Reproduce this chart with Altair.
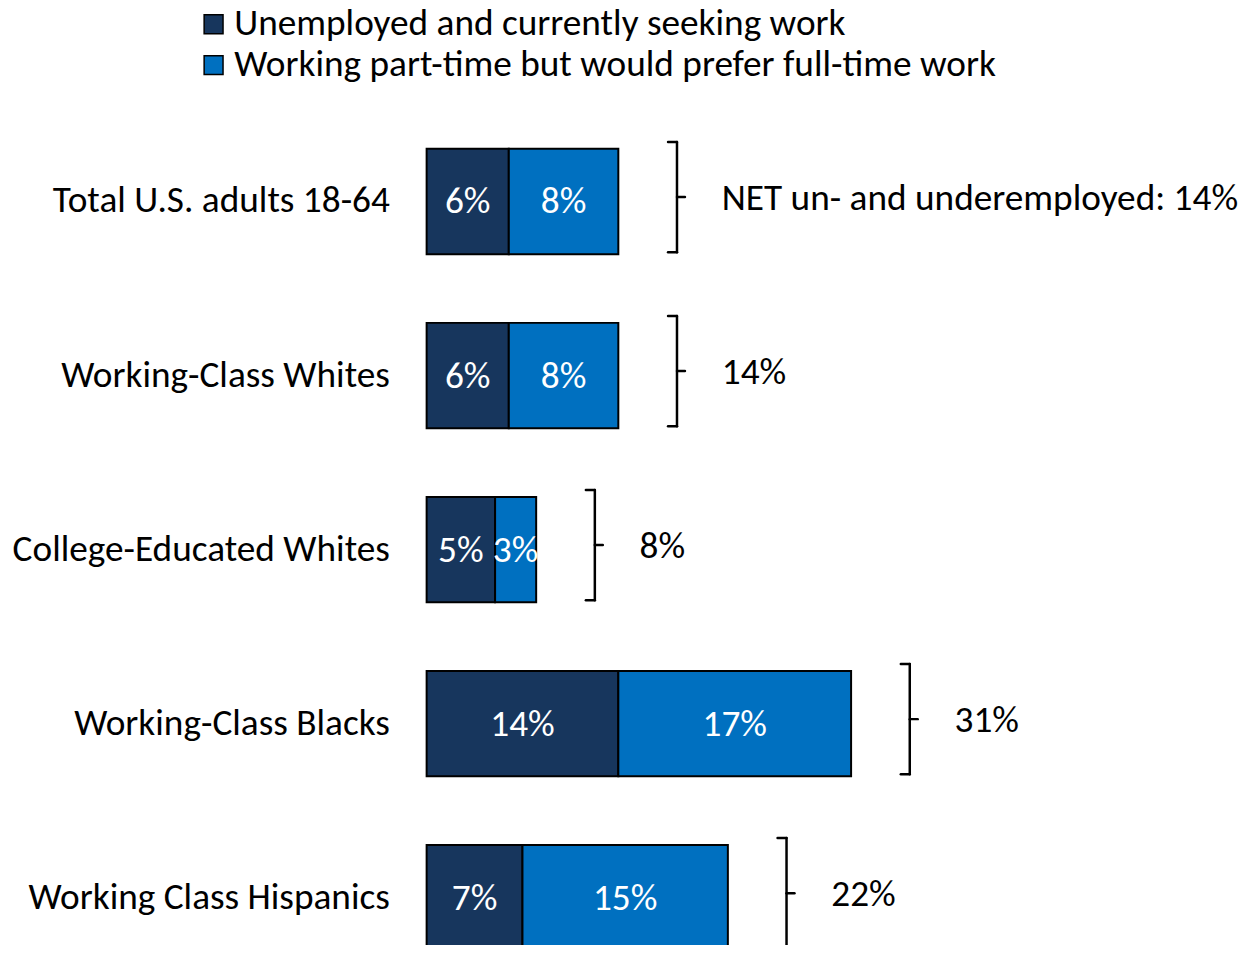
import altair as alt
import pandas as pd

# ---------------- data ----------------
groups = [
    "Total U.S. adults 18-64",
    "Working-Class Whites",
    "College-Educated Whites",
    "Working-Class Blacks",
    "Working Class Hispanics",
]
unemployed = [6, 6, 5, 14, 7]
parttime = [8, 8, 3, 17, 15]
net_totals = [14, 14, 8, 31, 22]
net_labels = ["NET un- and underemployed: 14%", "14%", "8%", "31%", "22%"]
series_names = [
    "Unemployed and currently seeking work",
    "Working part-time but would prefer full-time work",
]
colors = ["#17365D", "#0070C0"]

rows = []
for i, g in enumerate(groups):
    u, p = unemployed[i], parttime[i]
    rows.append(dict(group=g, row=i, series=series_names[0], start=0, end=u, label=f"{u}%"))
    rows.append(dict(group=g, row=i, series=series_names[1], start=u, end=u + p, label=f"{p}%"))
seg = pd.DataFrame(rows)
net = pd.DataFrame(dict(group=groups, row=list(range(len(groups))), total=net_totals,
                        label=net_labels, zero=[0] * len(groups)))

# ---------------- layout ----------------
FONT = "Carlito, Calibri, Lato"
FS = 37.5
W, H = 812, 937
PX_PER_PCT = 13.77
ROW_STEP, FIRST = 175, 192
HALF_BAR = 53
GAP = 59          # px from bar end to bracket
LABEL_GAP = 45    # px from bracket to net label

x_scale = alt.Scale(domain=[0, W / PX_PER_PCT], nice=False, zero=False)
y_scale = alt.Scale(domain=[-FIRST / ROW_STEP, (H - FIRST) / ROW_STEP],
                    reverse=True, nice=False, zero=False)


def X(f):
    return alt.X(f, scale=x_scale, axis=None)


def Y(f):
    return alt.Y(f, scale=y_scale, axis=None)


bars = alt.Chart(seg).mark_rect(
    yOffset=-HALF_BAR, y2Offset=HALF_BAR, stroke="black", strokeWidth=2
).encode(
    x=X("start:Q"),
    x2="end:Q",
    y=Y("row:Q"),
    y2="row:Q",
    color=alt.Color(
        "series:N",
        scale=alt.Scale(domain=series_names, range=colors),
        legend=alt.Legend(
            orient="none", legendX=-233, legendY=-5, title=None,
            symbolType="square", symbolSize=361, symbolStrokeColor="black",
            symbolStrokeWidth=1.5, symbolOpacity=1,
            labelFont=FONT, labelFontSize=FS, labelColor="black",
            labelOffset=2, labelLimit=1000, rowPadding=2, padding=0,
        ),
    ),
)

bar_text = alt.Chart(seg).transform_calculate(mid="(datum.start + datum.end) / 2").mark_text(
    color="white", font=FONT, fontSize=FS, baseline="middle", align="center", dy=1
).encode(x=X("mid:Q"), y=Y("row:Q"), text="label:N")

cat_text = alt.Chart(net).mark_text(
    align="right", baseline="middle", dx=-37, font=FONT, fontSize=FS, color="black"
).encode(x=X("zero:Q"), y=Y("row:Q"), text="group:N")

TOP, BOT, MID = -60, 51, -4.5
rule_style = dict(color="black", strokeWidth=2.5, strokeCap="round")

v_rule = alt.Chart(net).mark_rule(xOffset=GAP, yOffset=TOP, y2Offset=BOT, **rule_style).encode(
    x=X("total:Q"), y=Y("row:Q"), y2="row:Q")
top_hook = alt.Chart(net).mark_rule(xOffset=GAP - 9, x2Offset=GAP, yOffset=TOP, **rule_style).encode(
    x=X("total:Q"), x2="total:Q", y=Y("row:Q"))
bot_hook = alt.Chart(net).mark_rule(xOffset=GAP - 9, x2Offset=GAP, yOffset=BOT, **rule_style).encode(
    x=X("total:Q"), x2="total:Q", y=Y("row:Q"))
mid_tick = alt.Chart(net).mark_rule(xOffset=GAP, x2Offset=GAP + 8, yOffset=MID, **rule_style).encode(
    x=X("total:Q"), x2="total:Q", y=Y("row:Q"))

net_text = alt.Chart(net).mark_text(
    align="left", baseline="middle", dx=GAP + LABEL_GAP, dy=-3, font=FONT, fontSize=FS, color="black"
).encode(x=X("total:Q"), y=Y("row:Q"), text="label:N")

chart = alt.layer(bars, bar_text, cat_text, v_rule, top_hook, bot_hook, mid_tick, net_text).properties(
    width=W, height=H,
    autosize=alt.AutoSizeParams(type="none"),
    padding={"left": 421, "top": 0, "right": 10, "bottom": 0},
).configure_view(stroke=None)

chart.save("out.html", embed_options={"renderer": "svg", "actions": False})
